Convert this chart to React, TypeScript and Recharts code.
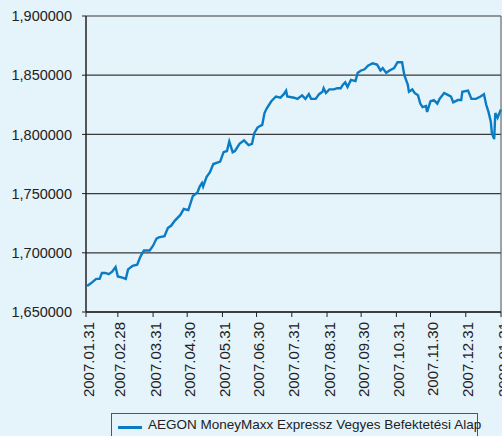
import React from 'react';
import { LineChart, Line, XAxis, YAxis, CartesianGrid, ReferenceLine } from 'recharts';

// napok 2007.01.31-tól számolva
const days = [
  1, 4, 9, 12, 14, 17, 20, 23, 26, 28, 32, 35, 37, 41, 45, 48, 51, 56, 59, 62, 64, 69, 72, 75, 78,
  83, 86, 90, 94, 98, 100, 102, 103, 106, 109, 112, 118, 121, 124, 126, 129, 131, 135, 139, 143,
  146, 148, 151, 155, 157, 159, 163, 167, 171, 174, 176, 177, 183, 186, 190, 193, 196, 198, 202,
  205, 208, 209, 211, 214, 218, 221, 224, 226, 228, 230, 233, 237, 239, 242, 245, 248, 250, 252,
  256, 259, 261, 264, 267, 271, 274, 278, 280, 283, 284, 287, 289, 292, 294, 296, 299, 300, 303,
  306, 309, 311, 315, 319, 321, 323, 327, 330, 331, 336, 339, 343, 347, 350, 352, 354, 356, 357,
  359, 360, 362, 364, 365,
];

const values = [
  1.672, 1.674, 1.678, 1.678, 1.683, 1.683, 1.682, 1.684, 1.688, 1.68, 1.679, 1.678, 1.686, 1.689,
  1.69, 1.697, 1.702, 1.702, 1.706, 1.712, 1.713, 1.714, 1.721, 1.723, 1.727, 1.732, 1.737, 1.736,
  1.748, 1.751, 1.756, 1.759, 1.756, 1.764, 1.768, 1.775, 1.777, 1.785, 1.786, 1.794, 1.785, 1.786,
  1.792, 1.795, 1.791, 1.792, 1.801, 1.806, 1.808, 1.818, 1.822, 1.828, 1.832, 1.831, 1.834, 1.837,
  1.832, 1.831, 1.83, 1.833, 1.83, 1.834, 1.83, 1.83, 1.834, 1.836, 1.839, 1.835, 1.838, 1.838,
  1.839, 1.839, 1.842, 1.844, 1.84, 1.846, 1.845, 1.852, 1.854, 1.855, 1.858, 1.859, 1.86, 1.859,
  1.854, 1.856, 1.852, 1.854, 1.856, 1.861, 1.861, 1.85, 1.842, 1.836, 1.838, 1.835, 1.833, 1.826,
  1.823, 1.824, 1.819, 1.828, 1.829, 1.826, 1.83, 1.835, 1.833, 1.832, 1.827, 1.829, 1.829, 1.836,
  1.837, 1.83, 1.83, 1.832, 1.834, 1.825, 1.819, 1.811, 1.801, 1.796, 1.818, 1.814, 1.819, 1.821,
];

const tickDays = [0, 28, 59, 89, 120, 150, 181, 212, 242, 273, 303, 334, 365];
const tickLabels = [
  '2007.01.31', '2007.02.28', '2007.03.31', '2007.04.30', '2007.05.31', '2007.06.30',
  '2007.07.31', '2007.08.31', '2007.09.30', '2007.10.31', '2007.11.30', '2007.12.31', '2008.01.31',
];

const yTicks = [1.65, 1.7, 1.75, 1.8, 1.85, 1.9];

const SERIES_NAME = 'AEGON MoneyMaxx Expressz Vegyes Befektetési Alap';
const LINE_COLOR = '#0a7cc4';
const BG = '#e5f3fa';
const FONT = '"Liberation Sans", Arial, sans-serif';

const data = days.map((d, i) => ({ day: d, value: values[i] }));

function DateTick({ x, y, payload }: any) {
  const idx = tickDays.indexOf(payload.value);
  return (
    <text
      x={0}
      y={0}
      transform={`translate(${x + 2},${y + 3}) rotate(-90)`}
      textAnchor="end"
      dominantBaseline="central"
      fontSize={15}
      fontFamily={FONT}
      fill="#222"
    >
      {tickLabels[idx]}
    </text>
  );
}

export default function App() {
  return (
    <div style={{ position: 'absolute', left: 0, top: 0, width: 502, height: 436, background: BG, overflow: 'hidden' }}>
      <LineChart width={502} height={436} data={data} margin={{ top: 16, right: 1, left: 0, bottom: 0 }}>
        <CartesianGrid vertical={false} stroke="#3a3a3a" strokeWidth={1.2} />
        <XAxis
          dataKey="day"
          type="number"
          domain={[0, 365]}
          ticks={tickDays}
          interval={0}
          height={124}
          tickSize={5}
          stroke="#222"
          axisLine={{ stroke: '#222', strokeWidth: 1.5 }}
          tick={<DateTick />}
        />
        <YAxis
          type="number"
          domain={[1.65, 1.9]}
          ticks={yTicks}
          interval={0}
          width={86}
          tickSize={4}
          tickMargin={10}
          stroke="#222"
          axisLine={{ stroke: '#222', strokeWidth: 1.5 }}
          tick={{ fill: '#222', fontSize: 14.5, fontFamily: FONT }}
          tickFormatter={(v: number) => v.toFixed(6).replace('.', ',')}
        />
        <ReferenceLine x={365} stroke="#555" strokeWidth={1} />
        <Line
          type="linear"
          dataKey="value"
          name={SERIES_NAME}
          stroke={LINE_COLOR}
          strokeWidth={2.4}
          dot={false}
          isAnimationActive={false}
        />
      </LineChart>
      <div
        style={{
          position: 'absolute',
          left: 111,
          top: 413,
          width: 367,
          height: 30,
          border: '1px solid #555',
          boxSizing: 'border-box',
          display: 'flex',
          alignItems: 'flex-start',
          paddingTop: 3,
          paddingLeft: 6,
          fontFamily: FONT,
          fontSize: 13.5,
          color: '#222',
          whiteSpace: 'nowrap',
        }}
      >
        <span style={{ display: 'inline-block', flex: 'none', width: 24, height: 2.5, background: LINE_COLOR, marginTop: 9, marginRight: 6 }} />
        <span>{SERIES_NAME}</span>
      </div>
    </div>
  );
}
